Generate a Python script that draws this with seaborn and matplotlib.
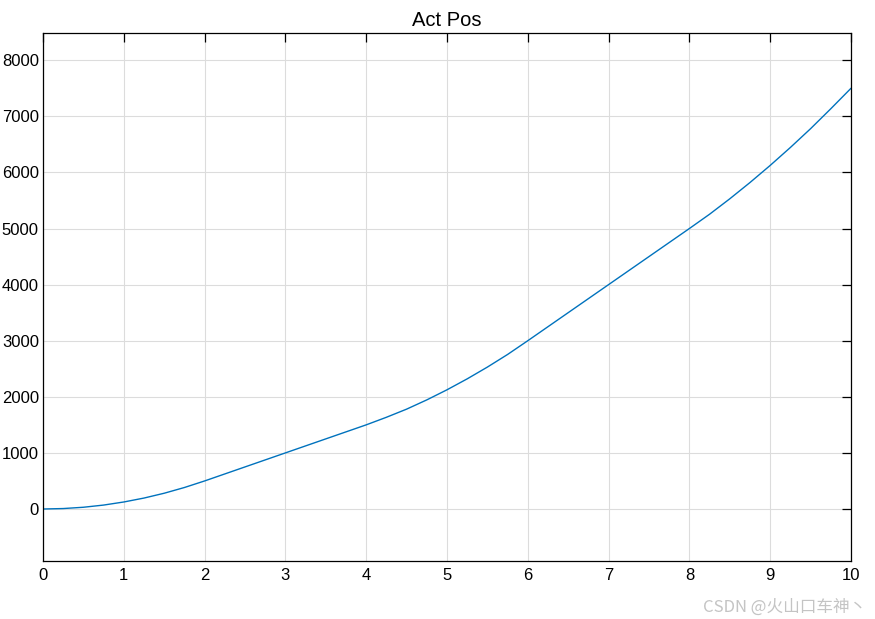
import numpy as np
import pandas as pd
import matplotlib
matplotlib.use('Agg')
import matplotlib.pyplot as plt
import seaborn as sn

# valores (tempo x posição)
tempo = [0, 0.25, 0.5, 0.75, 1, 1.25, 1.5, 1.75, 2, 2.5, 3, 3.5, 4, 4.25, 4.5, 4.75, 5, 5.25, 5.5, 5.75, 6,
         6.5, 7, 7.5, 8, 8.25, 8.5, 8.75, 9, 9.25, 9.5, 9.75, 10]
posicao = [0, 8, 31, 70, 125, 195, 281, 383, 500, 750, 1000, 1250, 1500, 1635, 1780, 1945, 2125, 2320, 2530, 2755, 3000,
           3500, 4000, 4500, 5000, 5255, 5530, 5820, 6125, 6445, 6780, 7135, 7500]
x_ticks = [0, 1, 2, 3, 4, 5, 6, 7, 8, 9, 10]
y_ticks = [0, 1000, 2000, 3000, 4000, 5000, 6000, 7000, 8000]
titulo = 'Act Pos'
marca = 'CSDN @火山口车神丶'

dados = pd.DataFrame({'t': tempo, 'pos': posicao})

sn.set_style('white')
plt.rcParams['font.family'] = ['Liberation Sans', 'DejaVu Sans']
plt.rcParams['xtick.direction'] = 'in'
plt.rcParams['ytick.direction'] = 'in'

fig = plt.figure(figsize=(8.75, 6.19), dpi=100)
ax = fig.add_axes([43 / 875, 1 - 561 / 619, (851 - 43) / 875, (561 - 33.3) / 619])

sn.lineplot(data=dados, x='t', y='pos', ax=ax, color='#0072BD', linewidth=1.0)

ax.set_xlim(0, 10)
ax.set_ylim(-927, 8480)
ax.set_xticks(x_ticks)
ax.set_yticks(y_ticks)
ax.set_xlabel('')
ax.set_ylabel('')
ax.grid(True, color='#dcdcdc', linewidth=0.8)
ax.set_axisbelow(True)
for s in ax.spines.values():
    s.set_visible(True)
    s.set_color('black')
    s.set_linewidth(0.9)
ax.tick_params(axis='both', which='both', direction='in', length=6.5, width=0.9,
               top=True, right=True, labelsize=12, colors='black', pad=5)
ax.tick_params(axis='y', pad=3)
ax.set_title(titulo, fontsize=14.5, pad=5, color='black')

fig.text(0.99, 0.005, marca, ha='right', va='bottom', fontsize=12, color='#c4c4c4',
         family=['Noto Sans CJK SC', 'DejaVu Sans'])

plt.savefig('out.png', dpi=100)
plt.close()
